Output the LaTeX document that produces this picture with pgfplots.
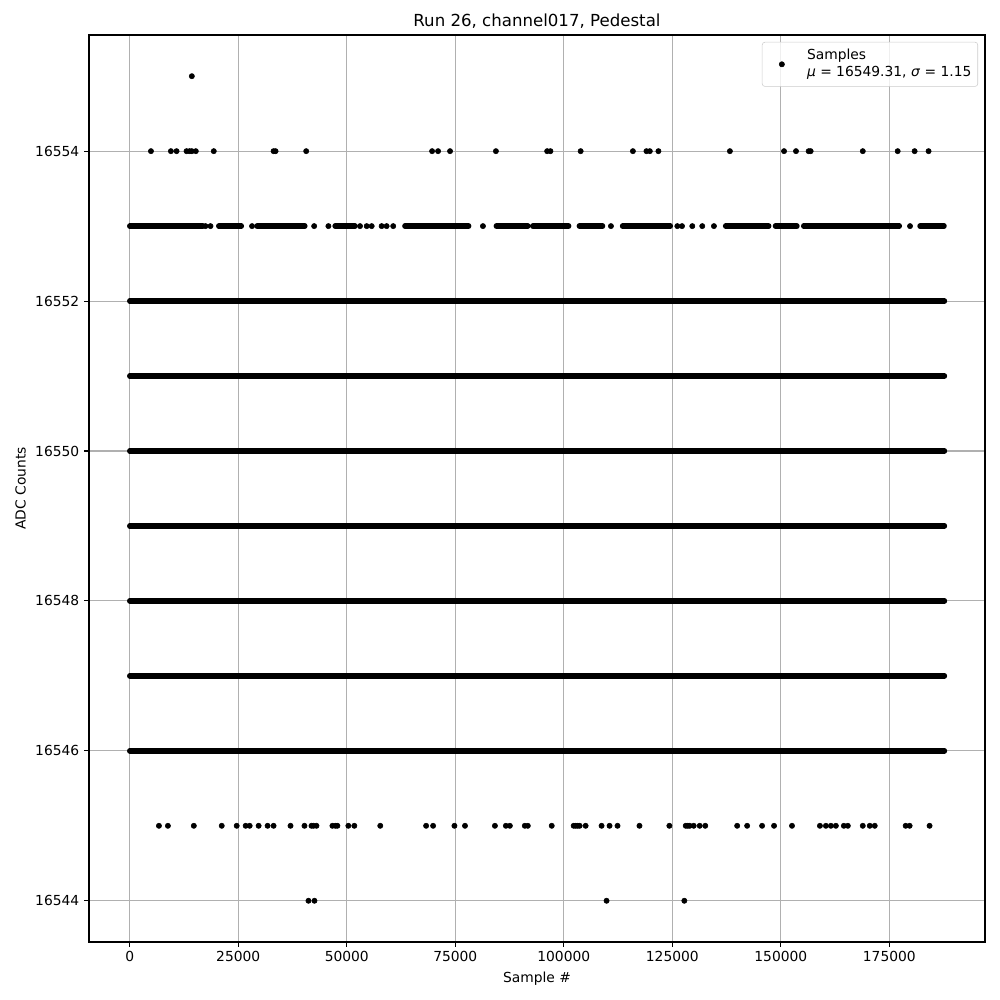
\documentclass[border=0pt]{standalone}
\usepackage{fontspec}
\setmainfont{DejaVu Sans}
\usepackage{pgfplots}
\pgfplotsset{compat=1.18}
\definecolor{gridc}{HTML}{B0B0B0}
\definecolor{legc}{HTML}{CCCCCC}
\begin{document}
\begin{tikzpicture}
\begin{axis}[
  at={(0,0)}, anchor=south west,
  scale only axis, width=647.5pt, height=655.5pt,
  xmin=-9382, xmax=197022, ymin=16543.45, ymax=16555.55,
  xtick={0,25000,50000,75000,100000,125000,150000,175000},
  ytick={16544,16546,16548,16550,16552,16554},
  scaled ticks=false,
  /pgf/number format/1000 sep={},
  /pgf/number format/fixed,
  /pgf/number format/assume math mode=true,
  tick label style={font=\fontsize{10}{12}\selectfont},
  label style={font=\fontsize{10}{12}\selectfont},
  title style={font=\fontsize{12}{14}\selectfont, yshift=-5pt},
  title={Run 26, channel017, Pedestal},
  xlabel={Sample \#}, ylabel={ADC Counts},
  grid=major, grid style={color=gridc, line width=0.8pt},
  axis line style={black, line width=0.8pt},
  tick style={black, line width=0.8pt},
  major tick length=3.5pt, tick align=outside, tick pos=left,
  legend style={at={(1,1)}, anchor=north east, xshift=-5pt, yshift=-5pt,
    draw=legc, rounded corners=2pt, fill=white, fill opacity=0.8, text opacity=1,
    font=\fontsize{10}{12}\selectfont, inner xsep=2.6pt, inner ysep=6pt},
  legend cell align=left,
  legend image code/.code={\path (-11.4pt,0pt) (16pt,0pt); \draw[#1, fill opacity=1, draw opacity=1] plot coordinates {(0pt,0pt)};},
]
\addlegendimage{only marks, mark=*, mark size=1.9pt, mark options={draw=none, fill=black, fill opacity=1}}
\addlegendentry{\raisebox{3.6pt}[\height][\depth]{\begin{tabular}{@{}l@{}}Samples\\\textit{μ} = 16549.31, \textit{σ} = 1.15\end{tabular}}}

% dense levels (continuous runs of samples)
\addplot[forget plot, black, line width=3.9pt, line cap=round] coordinates {(0,16546) (187700,16546)};
\addplot[forget plot, black, line width=3.9pt, line cap=round] coordinates {(0,16547) (187700,16547)};
\addplot[forget plot, black, line width=3.9pt, line cap=round] coordinates {(0,16548) (187700,16548)};
\addplot[forget plot, black, line width=3.9pt, line cap=round] coordinates {(0,16549) (187700,16549)};
\addplot[forget plot, black, line width=3.9pt, line cap=round] coordinates {(0,16550) (187700,16550)};
\addplot[forget plot, black, line width=3.9pt, line cap=round] coordinates {(0,16551) (187700,16551)};
\addplot[forget plot, black, line width=3.9pt, line cap=round] coordinates {(0,16552) (187700,16552)};

% 16553: runs of consecutive samples
\addplot[forget plot, black, line width=3.9pt, line cap=round] table {
x y
0 16553
16840 16553

20510 16553
25723 16553

29329 16553
40353 16553

47312 16553
51905 16553

63389 16553
78088 16553

84450 16553
91707 16553

92856 16553
101124 16553

103581 16553
108933 16553

113526 16553
124550 16553

137274 16553
147218 16553

148757 16553
153718 16553

155257 16553
177305 16553

182060 16553
187600 16553
};
% 16553: isolated samples
\addplot[forget plot, only marks, mark=*, mark size=1.9pt, mark options={draw=none, fill=black}] coordinates {
(17455,16553) (18603,16553) (28181,16553) (42489,16553) (45773,16553) (53054,16553) (54593,16553)
(55741,16553) (58037,16553) (59187,16553) (60702,16553) (81372,16553) (110860,16553) (126158,16553)
(127237,16553) (129603,16553) (131899,16553) (134587,16553) (179762,16553)
};

% 16554 and 16555
\addplot[forget plot, only marks, mark=*, mark size=1.9pt, mark options={draw=none, fill=black}] coordinates {
(4892,16554) (9485,16554) (10795,16554) (13091,16554) (13780,16554) (14309,16554) (15227,16554)
(19361,16554) (33142,16554) (33601,16554) (40652,16554) (69660,16554) (71038,16554) (73794,16554)
(84359,16554) (96164,16554) (96922,16554) (103881,16554) (115916,16554) (119039,16554) (119820,16554)
(121796,16554) (138264,16554) (150735,16554) (153491,16554) (156408,16554) (156867,16554)
(168879,16554) (176918,16554) (180822,16554) (184038,16554)
(14310,16555)
};

% 16545 and 16544
\addplot[forget plot, only marks, mark=*, mark size=1.9pt, mark options={draw=none, fill=black}] coordinates {
(6729,16545) (8796,16545) (14768,16545) (21199,16545) (24644,16545) (26711,16545) (27630,16545)
(29697,16545) (31764,16545) (33142,16545) (37046,16545) (40262,16545) (41870,16545) (42329,16545)
(43018,16545) (46693,16545) (47382,16545) (47841,16545) (50368,16545) (51746,16545) (57717,16545)
(68282,16545) (69890,16545) (74805,16545) (77239,16545) (84130,16545) (86656,16545) (87575,16545)
(91020,16545) (91709,16545)
(97221,16545) (102274,16545) (102733,16545) (103192,16545) (103652,16545) (105030,16545) (108705,16545)
(110542,16545) (112379,16545) (117432,16545) (124322,16545) (128089,16545) (128548,16545) (129008,16545)
(129926,16545) (131304,16545) (132591,16545) (139940,16545) (142237,16545) (145682,16545) (148438,16545)
(152572,16545) (159003,16545) (160381,16545) (161530,16545) (162678,16545) (164515,16545) (165434,16545)
(168879,16545) (170487,16545) (171635,16545) (178755,16545) (179674,16545) (184267,16545)
(41180,16544) (42559,16544) (109853,16544) (127768,16544)
};
\end{axis}
\path (-64.32pt,-41.92pt) rectangle (658.38pt,680.78pt);
\end{tikzpicture}
\end{document}
